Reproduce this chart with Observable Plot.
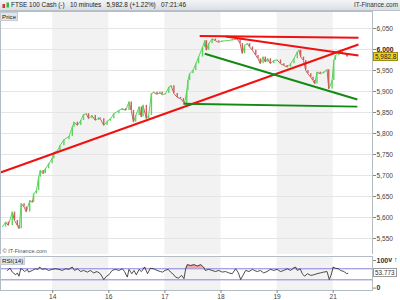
<!DOCTYPE html>
<html>
<head>
<meta charset="utf-8">
<script src="https://cdn.jsdelivr.net/npm/d3@7"></script>
<script src="https://cdn.jsdelivr.net/npm/@observablehq/plot@0.6"></script>
<style>
  html, body { margin: 0; padding: 0; background: #fff; }
  #wrap { position: relative; width: 400px; height: 300px; overflow: hidden; font-family: "Liberation Sans", Arial, sans-serif; }
  #header { position: absolute; left: 0; top: 0; width: 400px; height: 11px; background: linear-gradient(#f3f5f7, #d9dfe5); border-bottom: 1px solid #b8c0c8; box-sizing: border-box; font-size: 6.4px; line-height: 10px; color: #222; white-space: nowrap; }
  #header .title { position: absolute; left: 11px; top: 0; }
  #header .brand { position: absolute; right: 2px; top: 0; color: #333; }
  #header .icon { position: absolute; left: 2px; top: 2px; width: 8px; height: 7px; }
  .tag { position: absolute; font-size: 6.2px; line-height: 7px; padding: 0 1px; background: #dfe5ea; color: #222; border: 1px solid #c5cdd4; }
  .vbox { position: absolute; font-size: 6.4px; line-height: 7px; padding: 0 1px; white-space: nowrap; }
  #mainChart, #rsiChart { position: absolute; left: 0; }
  #mainChart { top: 11px; }
  #rsiChart { top: 254px; }
  svg { display: block; }
</style>
</head>
<body>
<div id="wrap">
  <div id="header">
    <svg class="icon" width="8" height="7"><rect x="0.5" y="2" width="2.5" height="4" fill="#d33"/><rect x="4.5" y="0.5" width="2.5" height="5" fill="#3b3"/></svg>
    <span class="title">FTSE 100 Cash (-)&nbsp;&nbsp;&nbsp;10 minutes&nbsp;&nbsp;&nbsp;5,982.8 (+1.22%)&nbsp;&nbsp;&nbsp;07:21:46</span>
    <span class="brand">IT-Finance.com</span>
  </div>
  <div id="mainChart"></div>
  <div id="rsiChart"></div>
</div>
<script>
// ---- data (x = trading-day index; 1 = start of the 14th) ----
const dayTicks = [1, 2, 3, 4, 5, 6];
const dayLabels = ["14", "16", "17", "18", "19", "21"];
const shadedStart = [1, 3, 5];
const shadedEnd = [2, 4, 6];
const priceTicks = [5550, 5600, 5650, 5700, 5750, 5800, 5850, 5900, 5950, 6000, 6050];

const priceT = [0.10,0.16,0.21,0.28,0.32,0.37,0.40,0.44,0.49,0.53,0.59,0.64,0.66,0.71,0.75,0.78,0.83,0.87,0.93,0.99,
  1.02,1.08,1.13,1.20,1.29,1.35,1.38,1.44,1.50,1.55,1.60,1.64,1.70,1.76,1.82,1.85,1.91,1.97,2.03,2.09,
  2.18,2.24,2.30,2.36,2.40,2.44,2.48,2.54,2.58,2.61,2.67,2.71,2.76,2.80,2.86,2.91,2.95,3.01,3.07,3.11,
  3.16,3.22,3.28,3.33,3.35,3.39,3.41,3.44,3.50,3.55,3.60,3.67,3.71,3.74,3.78,3.84,3.90,3.96,4.02,4.11,
  4.20,4.29,4.34,4.38,4.42,4.47,4.51,4.56,4.62,4.66,4.70,4.75,4.79,4.83,4.88,4.94,5.00,5.06,5.12,5.18,
  5.24,5.30,5.36,5.39,5.42,5.47,5.51,5.55,5.60,5.64,5.67,5.71,5.77,5.83,5.89,5.92,5.98,6.01,6.04,6.10,
  6.16,6.22,6.25];
const priceClose = [5577,5589,5581,5613,5593,5581,5573,5633,5625,5613,5640,5636,5656,5664,5696,5712,5704,5716,5728,5740,
  5755,5758,5771,5785,5793,5815,5827,5819,5831,5845,5847,5835,5843,5831,5837,5835,5819,5829,5835,5847,
  5855,5859,5855,5875,5855,5827,5843,5863,5839,5867,5835,5843,5895,5898,5893,5898,5892,5895,5910,5914,
  5895,5886,5883,5875,5871,5902,5926,5942,5950,5966,5982,6005,6021,5998,6014,6025,6021,6017,6020,6021,
  6023,6025,6014,5990,6010,6014,6006,5998,5986,5978,5966,5982,5970,5978,5966,5974,5975,5966,5962,5958,
  5966,5978,5994,5998,5982,5974,5950,5942,5934,5926,5918,5946,5942,5946,5952,5906,5926,5974,5986,5994,
  5990,5990,5982.8];
const lastPrice = 5982.8;

const rsiT = [0.19,0.24,0.28,0.34,0.37,0.40,0.43,0.46,0.50,0.55,0.57,0.64,0.69,0.74,0.77,0.81,0.87,0.93,0.99,1.05,
  1.11,1.17,1.23,1.29,1.35,1.39,1.44,1.50,1.55,1.62,1.67,1.73,1.79,1.85,1.91,1.96,2.00,2.06,2.12,2.18,
  2.24,2.28,2.33,2.36,2.41,2.45,2.49,2.54,2.58,2.64,2.69,2.74,2.80,2.86,2.92,2.96,3.00,3.06,3.10,3.14,
  3.19,3.24,3.30,3.34,3.37,3.40,3.46,3.52,3.58,3.64,3.69,3.72,3.78,3.84,3.90,3.96,4.02,4.08,4.14,4.20,
  4.26,4.31,4.35,4.39,4.44,4.50,4.56,4.59,4.65,4.70,4.76,4.82,4.88,4.94,5.00,5.06,5.12,5.18,5.24,5.29,
  5.33,5.36,5.41,5.45,5.49,5.54,5.60,5.65,5.71,5.77,5.83,5.89,5.93,5.96,6.00,6.04,6.09,6.13,6.19,6.24,
  6.26];
const rsiValue = [64,72,58,48,55,43,70,68,60,68,58,64,70,68,76,68,70,64,68,70,
  68,64,70,68,76,64,70,60,64,58,64,55,60,52,31,43,48,64,68,64,
  70,60,40,68,52,64,48,68,60,76,52,72,70,64,60,58,64,68,58,52,
  40,36,46,34,70,85,82,85,80,85,76,64,68,64,60,64,58,60,55,52,
  70,55,31,46,64,60,68,64,60,64,55,60,68,64,68,60,64,70,64,72,
  76,64,70,52,43,52,46,48,52,55,58,60,31,46,76,72,70,64,60,52,
  53.773];
const lastRsi = 53.773;

// trend lines drawn on the chart: [t1, v1, t2, v2]
const redLineT1 = [0.07, 3.62, 4.08];
const redLineV1 = [5707, 6032, 6031];
const redLineT2 = [6.45, 6.45, 6.45];
const redLineV2 = [6012, 6028, 5986];
const greenLineT1 = [3.71, 3.33];
const greenLineV1 = [5990, 5871];
const greenLineT2 = [6.43, 6.43];
const greenLineV2 = [5881, 5864];

// ---- build tables ----
const upColor = "#5dd35d", downColor = "#c9605a";
const bars = priceT.map((t, i) => ({t, c: priceClose[i], o: i ? priceClose[i - 1] : priceClose[i], pt: i ? priceT[i - 1] : t}));
const shaded = shadedStart.map((s, i) => ({s, e: shadedEnd[i]}));
const trends = [
  ...redLineT1.map((t, i) => ({t1: t, v1: redLineV1[i], t2: redLineT2[i], v2: redLineV2[i], c: "#f01010"})),
  ...greenLineT1.map((t, i) => ({t1: t, v1: greenLineV1[i], t2: greenLineT2[i], v2: greenLineV2[i], c: "#138a13"}))
];
const rsi = rsiT.map((t, i) => ({t, v: rsiValue[i]}));
const xDomain = [0.07, 6.70];
const font = "Liberation Sans, Arial, sans-serif";

const main = Plot.plot({
  width: 400, height: 243,
  marginLeft: 0, marginRight: 28, marginTop: 0, marginBottom: 0,
  x: {domain: xDomain, axis: null},
  y: {domain: [5511.9, 6090.5], axis: null},
  style: {fontFamily: font, background: "transparent"},
  marks: [
    Plot.rect(shaded, {x1: "s", x2: "e", fill: "#f2f2f2"}),
    Plot.ruleY(priceTicks, {stroke: "#e5e5e5", strokeWidth: 1}),
    Plot.link(bars.slice(1), {x1: "pt", y1: "o", x2: "t", y2: "c", stroke: d => d.c >= d.o ? upColor : downColor, strokeWidth: 1}),
    Plot.ruleX(bars, {x: "t", y1: "o", y2: "c", stroke: d => d.c >= d.o ? upColor : downColor, strokeWidth: 1.4}),
    Plot.link(trends, {x1: "t1", y1: "v1", x2: "t2", y2: "v2", stroke: "c", strokeWidth: 2}),
    Plot.frame({stroke: "#b4bcc4"}),
    Plot.axisY(priceTicks.filter(v => v !== 6000), {anchor: "right", tickSize: 3, tickPadding: 1, fontSize: 6.6, stroke: "#888", fill: "#444", tickFormat: d3.format(",")}),
    Plot.axisY([6000], {anchor: "right", tickSize: 3, tickPadding: 1, fontSize: 6.8, fontWeight: "bold", stroke: "#888", fill: "#222", tickFormat: d3.format(",")}),
    Plot.text(["© IT-Finance.com"], {frameAnchor: "bottom-left", dx: 2, dy: -2, fontSize: 5.6, fill: "#555", text: d => d})
  ]
});
document.getElementById("mainChart").appendChild(main);

const rsiPlot = Plot.plot({
  width: 400, height: 46,
  marginLeft: 0, marginRight: 28, marginTop: 2, marginBottom: 10,
  x: {domain: xDomain},
  y: {domain: [-8.7, 114.5], axis: null},
  style: {fontFamily: font, background: "transparent"},
  marks: [
    Plot.rect(shaded, {x1: "s", x2: "e", fill: "#f2f2f2"}),
    Plot.ruleY([30, 70], {stroke: "#8585dd", strokeWidth: 1}),
    Plot.areaY(rsi, {x: "t", y1: 70, y2: d => Math.max(70, d.v), fill: "#f0a8a8", curve: "linear"}),
    Plot.line(rsi, {x: "t", y: "v", stroke: "#222", strokeWidth: 0.8}),
    Plot.frame({stroke: "#b4bcc4"}),
    Plot.axisX(dayTicks, {anchor: "bottom", tickSize: 3, tickPadding: 1, fontSize: 6.6, stroke: "#888", fill: "#444", tickFormat: (d, i) => dayLabels[dayTicks.indexOf(d)]}),
    Plot.axisY([0, 100], {anchor: "right", tickSize: 3, tickPadding: 1, fontSize: 7, fontWeight: "bold", stroke: "#888", fill: "#333"})
  ]
});
document.getElementById("rsiChart").appendChild(rsiPlot);

// ---- labels placed with the plots' own scales ----
const wrap = document.getElementById("wrap");
function addBox(text, top, css, cls) {
  const el = document.createElement("div");
  el.className = cls;
  el.textContent = text;
  Object.assign(el.style, css);
  el.style.top = top + "px";
  wrap.appendChild(el);
  return el;
}
addBox("Price", 12, {left: "0px"}, "tag");
addBox("RSI(14)", 256, {left: "0px"}, "tag");
const yMain = main.scale("y"), xMain = main.scale("x");
const pxRight = xMain.apply(xDomain[1]);
addBox(d3.format(",.1f")(lastPrice), 11 + yMain.apply(lastPrice) - 4.5,
  {left: (pxRight + 1) + "px", background: "#f2cf1d", border: "1px solid #a08a10", color: "#222"}, "vbox");
const yRsi = rsiPlot.scale("y");
addBox(String(lastRsi), 254 + yRsi.apply(lastRsi) - 4.5,
  {left: (pxRight + 1) + "px", background: "#fff", border: "1px solid #999", color: "#333"}, "vbox");
</script>
</body>
</html>
